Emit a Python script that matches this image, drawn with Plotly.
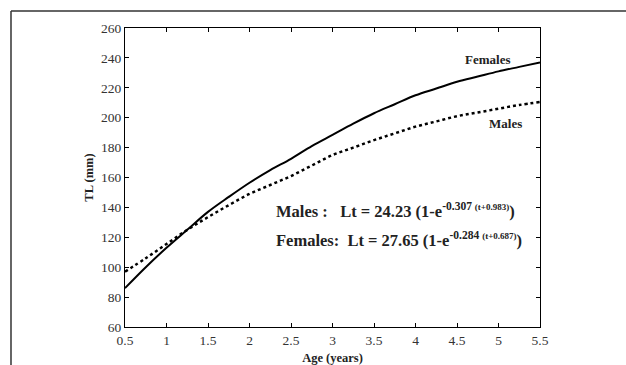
import plotly.graph_objects as go

# Age (years) and total length (mm) for each sex
ages = [0.5, 0.75, 1.0, 1.25, 1.5, 1.75, 2.0, 2.25, 2.5, 2.75, 3.0,
        3.25, 3.5, 3.75, 4.0, 4.25, 4.5, 4.75, 5.0, 5.25, 5.5]
females_tl = [86, 100, 113, 125, 137, 147, 156.5, 165, 172.5, 181, 188.5,
              196, 203, 209, 215, 219.5, 224, 227.5, 231, 234, 237]
males_tl = [97, 106, 115.5, 125, 133.5, 141.5, 149, 155, 161, 168, 175,
            180, 185, 189.5, 194, 197.5, 201, 203.5, 206, 208.5, 210.5]

x_ticks = [0.5, 1, 1.5, 2, 2.5, 3, 3.5, 4, 4.5, 5, 5.5]
x_ticktext = ["0.5", "1", "1.5", "2", "2.5", "3", "3.5", "4", "4.5", "5", "5.5"]
y_ticks = [60, 80, 100, 120, 140, 160, 180, 200, 220, 240, 260]

SERIF = "Liberation Serif, Times New Roman, serif"
NB = "\u00a0"

fig = go.Figure()
fig.add_trace(go.Scatter(x=ages, y=females_tl, mode="lines", name="Females",
                         line=dict(color="black", width=2, shape="spline")))
fig.add_trace(go.Scatter(x=ages, y=males_tl, mode="lines", name="Males",
                         line=dict(color="black", width=2.5, dash="dot", shape="spline")))

axis_common = dict(showline=True, linecolor="black", linewidth=1, mirror="ticks",
                   ticks="inside", ticklen=4, tickcolor="black", showgrid=False,
                   zeroline=False, automargin=False,
                   tickfont=dict(family=SERIF, size=13.5, color="#333"))

fig.update_xaxes(range=[0.5, 5.5], tickvals=x_ticks, ticktext=x_ticktext,
                 ticklabelstandoff=1,
                 title=dict(text="<b>Age (years)</b>", standoff=8,
                            font=dict(family=SERIF, size=12.5, color="#222")),
                 **axis_common)
fig.update_yaxes(range=[60, 260], tickvals=y_ticks,
                 title=dict(text="<b>TL (mm)</b>", standoff=4,
                            font=dict(family=SERIF, size=12.5, color="#222")),
                 **axis_common)

ann_font = dict(family=SERIF, size=13, color="#222")
eq_font = dict(family=SERIF, size=16.5, color="#222")
annotations = [
    dict(x=4.87, y=239, text="<b>Females</b>", font=ann_font),
    dict(x=5.09, y=196, text="<b>Males</b>", font=ann_font),
    dict(x=2.3, y=138, xanchor="left",
         text="<b>Males :" + NB * 3 + "Lt = 24.23 (1-e<sup>-0.307 "
              "<span style='font-size:9px'>(t+0.983)</span></sup>)</b>",
         font=eq_font),
    dict(x=2.3, y=118.5, xanchor="left",
         text="<b>Females:" + NB * 2 + "Lt = 27.65 (1-e<sup>-0.284 "
              "<span style='font-size:9px'>(t+0.687)</span></sup>)</b>",
         font=eq_font),
]
for a in annotations:
    a.update(xref="x", yref="y", showarrow=False)

# Outer frame running off the right and bottom of the page
shapes = [
    dict(type="line", xref="paper", yref="paper", x0=-0.2747, x1=1.3, y0=1.0569, y1=1.0569,
         line=dict(color="#333", width=1.5)),
    dict(type="line", xref="paper", yref="paper", x0=-0.2747, x1=-0.2747, y0=1.0569, y1=-0.2,
         line=dict(color="#333", width=1.5)),
]

fig.update_layout(width=626, height=365, showlegend=False,
                  margin=dict(l=125, r=86, t=28, b=38, autoexpand=False),
                  paper_bgcolor="white", plot_bgcolor="white",
                  annotations=annotations, shapes=shapes)

fig.write_html("out.html")
